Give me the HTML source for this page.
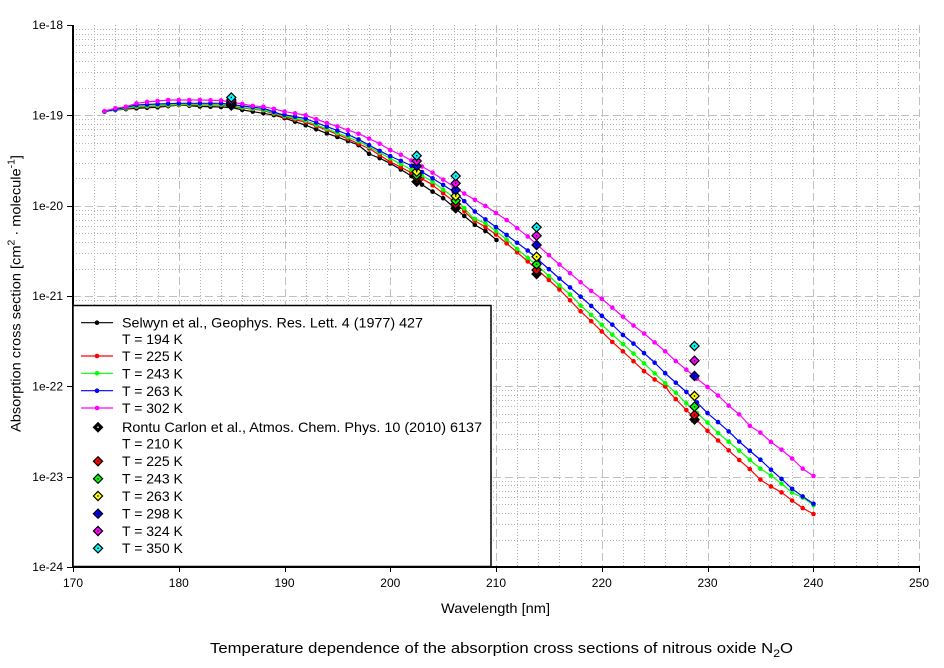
<!DOCTYPE html>
<html>
<head>
<meta charset="utf-8">
<style>
  html,body{margin:0;padding:0;background:#fff;}
  svg{display:block;}
  text{font-family:"Liberation Sans","DejaVu Sans",sans-serif;fill:#000;}
</style>
</head>
<body>
<svg id="chart" xmlns="http://www.w3.org/2000/svg" width="944" height="668" viewBox="0 0 944 668">
  <rect x="0" y="0" width="944" height="668" fill="#fff"/>
  <g id="grid"></g>
  <g id="series"></g>
  <g id="diamonds"></g>

  <!-- axes -->
  <rect x="72" y="25" width="2" height="543" fill="#000"/>
  <rect x="72" y="566" width="848" height="2" fill="#000"/>
  <g id="ticks"></g>

  <!-- y tick labels -->
  <g font-size="12" text-anchor="end">
    <text x="63" y="29">1e-18</text>
    <text x="63" y="119.5">1e-19</text>
    <text x="63" y="210">1e-20</text>
    <text x="63" y="300">1e-21</text>
    <text x="63" y="390.5">1e-22</text>
    <text x="63" y="481">1e-23</text>
    <text x="63" y="571">1e-24</text>
  </g>
  <!-- x tick labels -->
  <g font-size="12" text-anchor="middle">
    <text x="73" y="587">170</text>
    <text x="178.8" y="587">180</text>
    <text x="284.5" y="587">190</text>
    <text x="390.3" y="587">200</text>
    <text x="496" y="587">210</text>
    <text x="601.8" y="587">220</text>
    <text x="707.5" y="587">230</text>
    <text x="813.3" y="587">240</text>
    <text x="919" y="587">250</text>
  </g>

  <text x="441" y="613" font-size="14" textLength="109" lengthAdjust="spacingAndGlyphs">Wavelength [nm]</text>

  <text transform="translate(20.5,432) rotate(-90)" font-size="14" textLength="277" lengthAdjust="spacingAndGlyphs">Absorption cross section [cm<tspan font-size="10" dy="-6">2</tspan><tspan dy="6"> · molecule</tspan><tspan font-size="10" dy="-6">-1</tspan><tspan dy="6">]</tspan></text>

  <text x="210" y="653" font-size="15" textLength="583" lengthAdjust="spacingAndGlyphs">Temperature dependence of the absorption cross sections of nitrous oxide N<tspan font-size="11" dy="4">2</tspan><tspan dy="-4">O</tspan></text>

  <!-- legend -->
  <rect x="73" y="305.5" width="418" height="261" fill="#fff" stroke="#000" stroke-width="1.5"/>
  <g id="legend"></g>
  <g font-size="14">
    <text x="122" y="327.5" textLength="301" lengthAdjust="spacingAndGlyphs">Selwyn et al., Geophys. Res. Lett. 4 (1977) 427</text>
    <text x="122" y="344">T = 194 K</text>
    <text x="122" y="361">T = 225 K</text>
    <text x="122" y="378.5">T = 243 K</text>
    <text x="122" y="396">T = 263 K</text>
    <text x="122" y="413">T = 302 K</text>
    <text x="122" y="432" textLength="360" lengthAdjust="spacingAndGlyphs">Rontu Carlon et al., Atmos. Chem. Phys. 10 (2010) 6137</text>
    <text x="122" y="448.5">T = 210 K</text>
    <text x="122" y="466">T = 225 K</text>
    <text x="122" y="483.5">T = 243 K</text>
    <text x="122" y="501">T = 263 K</text>
    <text x="122" y="518.5">T = 298 K</text>
    <text x="122" y="536">T = 324 K</text>
    <text x="122" y="553">T = 350 K</text>
  </g>
</svg>
<script>
(function(){
  var NS="http://www.w3.org/2000/svg";
  function el(parent,name,attrs){var e=document.createElementNS(NS,name);for(var k in attrs)e.setAttribute(k,attrs[k]);parent.appendChild(e);return e;}
  var X=function(nm){return 73+(nm-170)*10.575;};
  var H=90.333, TOP=25, BOT=567, L=73, R=919;
  var grid=document.getElementById('grid');
  // minor y
  for(var k=1;k<=6;k++){
    for(var m=2;m<=9;m++){
      var y=Math.round(TOP+k*H-Math.log10(m)*H)+0.5;
      el(grid,'line',{x1:L,x2:R,y1:y,y2:y,stroke:'#b4b4b4','stroke-width':1,'stroke-dasharray':'1 2'});
    }
  }
  // minor x
  for(var nm=172;nm<250;nm+=2){
    if(nm%10===0)continue;
    var x=Math.round(X(nm))+0.5;
    el(grid,'line',{x1:x,x2:x,y1:TOP,y2:BOT,stroke:'#b4b4b4','stroke-width':1,'stroke-dasharray':'1 2'});
  }
  // major y
  for(var k=1;k<=5;k++){
    var y=Math.round(TOP+k*H)+0.5;
    el(grid,'line',{x1:L,x2:R,y1:y,y2:y,stroke:'#c0c0c0','stroke-width':1,'stroke-dasharray':'8 4'});
  }
  // major x
  for(var nm=180;nm<=250;nm+=10){
    var x=Math.round(X(nm))+0.5;
    el(grid,'line',{x1:x,x2:x,y1:TOP,y2:BOT,stroke:'#c0c0c0','stroke-width':1,'stroke-dasharray':'8 4'});
  }
  // ticks
  var ticks=document.getElementById('ticks');
  for(var nm=170;nm<=250;nm+=10){
    var x=Math.round(X(nm))+0.5;
    el(ticks,'line',{x1:x,x2:x,y1:567,y2:572,stroke:'#000','stroke-width':1});
  }
  for(var k=0;k<=6;k++){
    var y=Math.round(TOP+k*H)+0.5;
    el(ticks,'line',{x1:67,x2:73,y1:y,y2:y,stroke:'#000','stroke-width':1});
  }

  var series=[
    {c:'#000000',end:210,p:[[104.5,111.5],[115,110],[136.7,108.3],[157.7,107.3],[179.3,105],[200,106.5],[221.7,107],[231.7,107.5],[242.7,110],[253.3,111.7],[263.3,113.3],[275,115.3],[285,118.3],[305,125],[326.7,133.3],[338.3,137.3],[358.3,145],[369.3,154],[380,158.3],[390,163.3],[401.7,170],[413,177],[421,184],[432.7,191.7],[443.3,198.3],[475,225],[486.7,231.7],[496.5,240]]},
    {c:'#ff0000',end:240,p:[[104.5,111.5],[115,110],[136.7,107],[157.7,106],[179.3,105],[200,105],[221.7,105],[242.7,108],[264,110.5],[280,116],[305,122],[326.7,130],[346.7,138.3],[370,149],[390,161.7],[410,172],[430,183.3],[456,203],[473.3,220],[485,226.7],[496.7,235],[507.3,244],[518.3,253.3],[540,272],[560,290],[570.7,301],[581,311.7],[591.3,321.3],[602,331.7],[612.7,342.3],[623.3,351.7],[634,361.7],[644.7,371.7],[655.3,380],[666,387],[670,393],[675.7,399],[686.3,410],[696.7,420],[707.7,431],[718.3,440.7],[729,450.7],[740,460.7],[750,469.3],[760.7,480],[771.3,486.7],[782,492.7],[792.3,500.7],[803,508.3],[813.5,514]]},
    {c:'#00ff00',end:240,p:[[104.5,111.5],[115,110],[136.7,106.5],[157.7,105.5],[179.3,104.5],[200,104.5],[221.7,104.5],[242.7,107.5],[264,110],[280,115],[305,120.5],[338.3,133.3],[360,142],[390,158.3],[410,169],[430,180],[456,199],[473.3,218.3],[485.7,223.3],[496.7,231.7],[507.3,240],[518.3,250],[540,268],[560,286],[570.7,295],[581,306],[591.3,315],[602,325],[612.7,335],[623.3,344.3],[634,354],[644.7,364],[655.3,374],[666,384],[676,393],[686.3,403.3],[697,413],[707.7,422.7],[718.3,433.3],[729,442],[739.3,450.7],[750,460],[760.7,469],[771.3,475.7],[782,484],[792.3,492.7],[803,497.7],[813.5,505.3]]},
    {c:'#0000ff',end:240,p:[[104.5,111.5],[115,109.5],[136.7,105],[157.7,104],[179.3,103.3],[200,103.3],[221.7,103.3],[242.7,106],[264,108.5],[280,114],[305,118.5],[346.7,134],[358.3,139.3],[379.3,150.7],[390,156],[410,165],[430,176.7],[456,193],[475,211.7],[506.7,235],[528.3,251],[560,279],[570.7,288],[581,297],[591.3,306],[602,316],[612.7,325],[623,335],[634,344],[644.7,353.7],[655,363],[666,374],[676.7,383.5],[687,392.5],[697.5,403],[707.7,413.3],[718.3,422.3],[729,431.7],[739.3,441.7],[750,451],[760.7,460],[771.3,470],[782,479.3],[792.3,489],[803,496.7],[813.5,503.7]]},
    {c:'#ff00ff',end:240,p:[[104.5,111],[115,108.3],[126,106.7],[136.7,103.3],[146.7,102],[157.7,101],[168.3,100],[179.3,100],[200,100],[221.7,100.5],[242.7,104],[253.3,106],[264,106.7],[274.3,109],[285,111.7],[305,115],[326.7,123],[338.3,126.7],[360,134.3],[380,143.8],[390.7,150.3],[401.5,155],[430,171],[465,194],[486.7,206.7],[508,221],[528,236.7],[560,265],[570.7,273.7],[580.7,282.3],[591.3,291],[602,299],[612.7,308],[623.3,317],[634,326],[644.7,334],[655.3,343],[666,352],[676,361.3],[686.7,370],[697.3,379],[708,387.3],[718.7,396],[729,406],[740,415],[750,426],[761,433],[771,442],[782,450],[792.7,459],[803,469],[813.5,476]]}
  ];
  function interp(p,x){
    if(x<=p[0][0])return p[0][1];
    for(var i=1;i<p.length;i++){
      if(x<=p[i][0]){var a=p[i-1],b=p[i];return a[1]+(b[1]-a[1])*(x-a[0])/(b[0]-a[0]);}
    }
    return p[p.length-1][1];
  }
  var sg=document.getElementById('series');
  series.forEach(function(s){
    var d='M'+s.p.map(function(q){return q[0]+','+q[1];}).join(' L');
    el(sg,'path',{d:d,fill:'none',stroke:s.c,'stroke-width':1.2,'stroke-linejoin':'round'});
  });
  series.forEach(function(s){
    for(var nm=173;nm<=s.end;nm++){
      var x=X(nm); if(nm===173)x=104.5; if(nm===240)x=813.5; if(nm===210&&s.end===210)x=496.5;
      var y=interp(s.p,x);
      el(sg,'circle',{cx:x,cy:y,r:2.3,fill:s.c});
    }
  });

  var dcol=['#000000','#ff0000','#00ff00','#ffff00','#0000ff','#ff00ff','#00ffff'];
  var dpts=[
    [231.3,[105.5,104.5,104,103,102,100,97.5]],
    [416.7,[181.7,177.3,175,171.7,166,161,155.7]],
    [455.7,[208.3,204,200.7,196,190,183.3,176]],
    [536.6,[274,270,264.3,256.7,245,235.7,227.3]],
    [694.5,[419.5,415,406.7,396,376,360.7,346]]
  ];
  var dg=document.getElementById('diamonds');
  function diamond(g,x,y,c){
    var s=4.6;
    el(g,'polygon',{points:(x)+','+(y-s)+' '+(x+s)+','+y+' '+x+','+(y+s)+' '+(x-s)+','+y,fill:c,stroke:'#000','stroke-width':1.2});
    el(g,'rect',{x:x-0.7,y:y-0.7,width:1.4,height:1.4,fill:(c==='#000000'?'#fff':'#000')});
  }
  dpts.forEach(function(dp){
    for(var i=0;i<7;i++)diamond(dg,dp[0],dp[1][i],dcol[i]);
  });

  // legend symbols
  var lg=document.getElementById('legend');
  var lrows=[[322.7,'#000000'],[356,'#ff0000'],[373.3,'#00ff00'],[390.7,'#0000ff'],[408,'#ff00ff']];
  lrows.forEach(function(r){
    el(lg,'line',{x1:81,x2:113,y1:r[0],y2:r[0],stroke:r[1],'stroke-width':1.2});
    el(lg,'circle',{cx:97,cy:r[0],r:2.3,fill:r[1]});
  });
  var drows=[[427.3,'#000000'],[461.3,'#ff0000'],[478.7,'#00ff00'],[496,'#ffff00'],[513.7,'#0000ff'],[531,'#ff00ff'],[548.3,'#00ffff']];
  drows.forEach(function(r){diamond(lg,98,r[0],r[1]);});
})();
</script>
</body>
</html>
